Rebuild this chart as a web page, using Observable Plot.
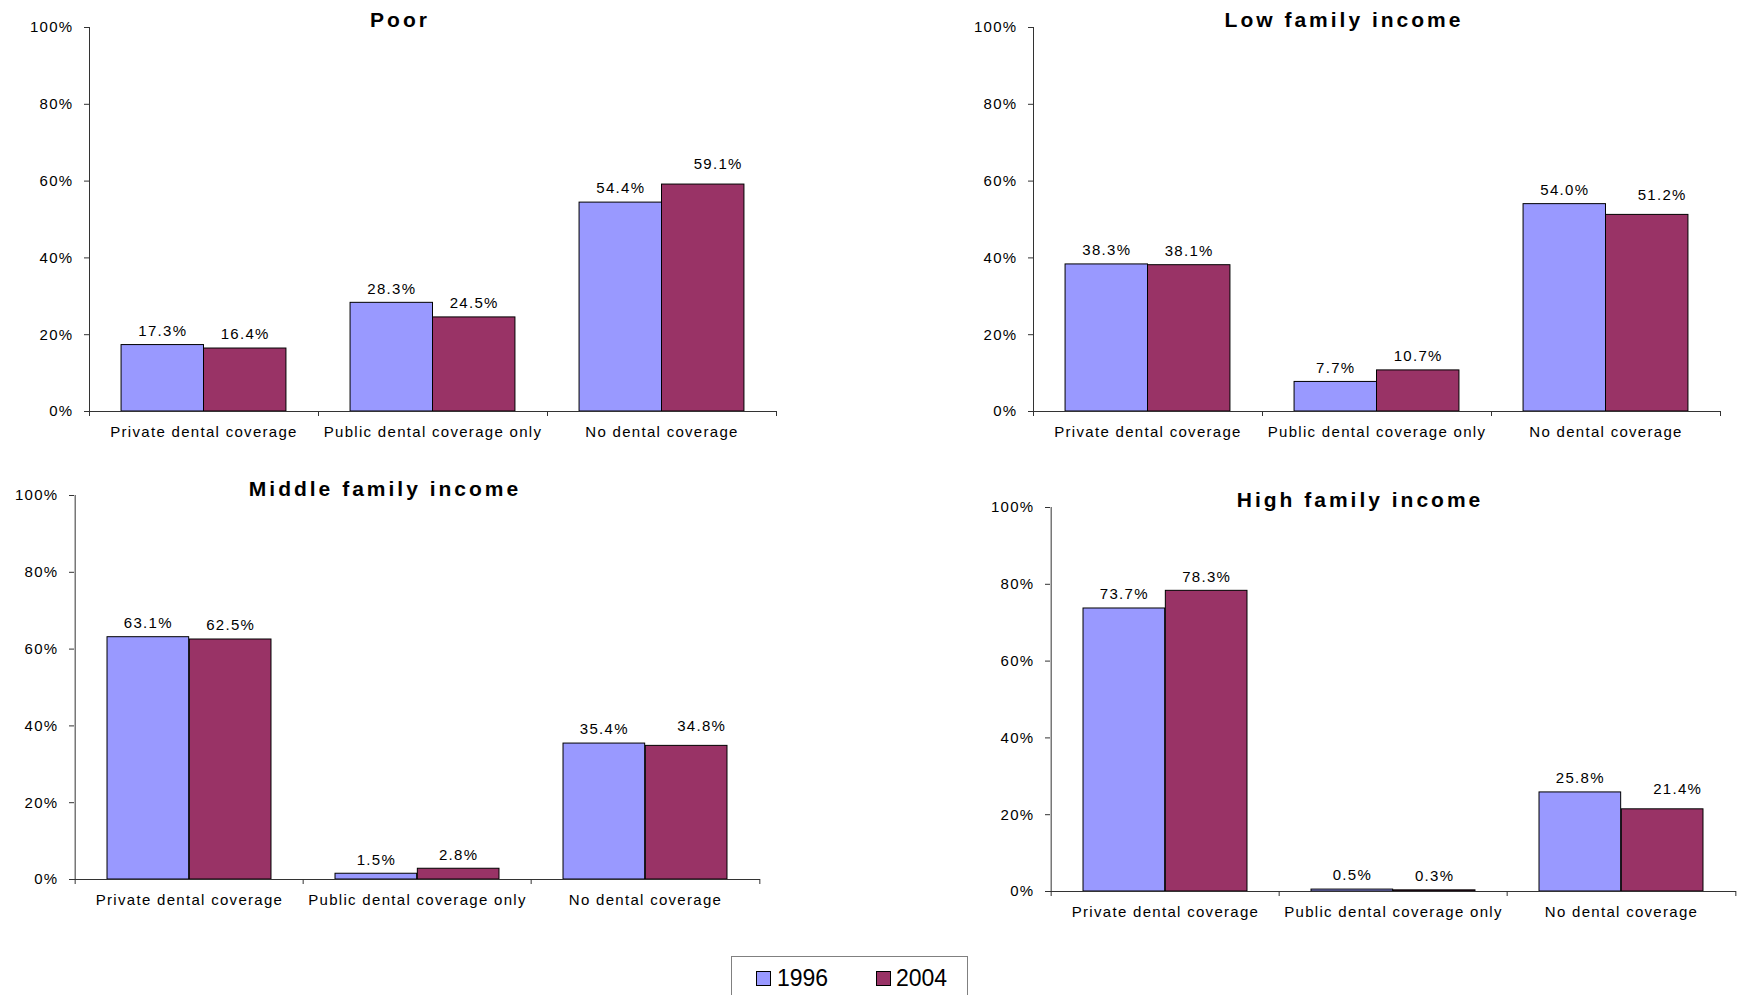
<!DOCTYPE html>
<html>
<head>
<meta charset="utf-8">
<script src="https://cdn.jsdelivr.net/npm/d3@7"></script>
<script src="https://cdn.jsdelivr.net/npm/@observablehq/plot@0.6"></script>
<style>
  html, body { margin: 0; padding: 0; background: #fff; }
  #root { position: relative; width: 1739px; height: 995px; overflow: hidden; font-family: Arial, "Liberation Sans", sans-serif; }
  .panel { position: absolute; }
  .title { position: absolute; transform: translate(-50%, -50%); font-size: 21px; font-weight: bold; letter-spacing: 3px; line-height: 1; white-space: nowrap; color: #000; }
  .legend { position: absolute; left: 731px; top: 956px; width: 237px; height: 60px; border: 1px solid #808080; box-sizing: border-box; background: #fff; }
  .legend .sw { position: absolute; width: 15px; height: 15px; border: 1px solid #000; box-sizing: border-box; }
  .legend .lb { position: absolute; font-size: 23px; line-height: 1; color: #000; }
</style>
</head>
<body>
<div id="root"></div>
<script>
// ---- data ----
const categories = ["Private dental coverage", "Public dental coverage only", "No dental coverage"];
const years = ["1996", "2004"];
const yearColors = ["#9999FF", "#993366"];
const panelTitles = ["Poor", "Low family income", "Middle family income", "High family income"];
const poor1996 = [17.3, 28.3, 54.4];
const poor2004 = [16.4, 24.5, 59.1];
const low1996 = [38.3, 7.7, 54.0];
const low2004 = [38.1, 10.7, 51.2];
const middle1996 = [63.1, 1.5, 35.4];
const middle2004 = [62.5, 2.8, 34.8];
const high1996 = [73.7, 0.5, 25.8];
const high2004 = [78.3, 0.3, 21.4];
const yTicks = [0, 20, 40, 60, 80, 100];

// ---- layout (positions/sizes only) ----
const layouts = [
  {left: 0,   top: 0,   width: 800, height: 455, ml: 89,  mr: 24, mt: 27, mb: 44, tx: 400,  ty: 19},
  {left: 810, top: 0,   width: 929, height: 455, ml: 223, mr: 19, mt: 27, mb: 44, tx: 1344, ty: 19},
  {left: 0,   top: 460, width: 800, height: 479, ml: 74,  mr: 40, mt: 35, mb: 60, tx: 385,  ty: 488},
  {left: 810, top: 460, width: 929, height: 479, ml: 240, mr: 3,  mt: 47, mb: 48, tx: 1360, ty: 499}
];
const series = [[poor1996, poor2004], [low1996, low2004], [middle1996, middle2004], [high1996, high2004]];

const root = document.getElementById("root");
const fmt = v => v.toFixed(1) + "%";

series.forEach(([a, b], i) => {
  const L = layouts[i];
  const rows = [];
  categories.forEach((c, j) => {
    rows.push({category: c, year: years[0], value: a[j]});
    rows.push({category: c, year: years[1], value: b[j]});
  });
  const r96 = rows.filter(d => d.year === years[0]);
  const r04 = rows.filter(d => d.year === years[1]);
  const r04main = r04.filter(d => d.category !== categories[2]);
  const r04last = r04.filter(d => d.category === categories[2]);

  const step = (L.width - L.ml - L.mr) / categories.length;
  const half = step / 2;
  const outer = step * 0.14;
  const mid = half;
  const barC = (outer + mid) / 2 - half; // offset of 1996 bar center from band center

  const chart = Plot.plot({
    width: L.width,
    height: L.height,
    marginLeft: L.ml,
    marginRight: L.mr,
    marginTop: L.mt,
    marginBottom: L.mb,
    style: {background: "transparent", fontSize: "15px", fontFamily: "Arial, 'Liberation Sans', sans-serif", letterSpacing: "1.3px", color: "#000", overflow: "visible"},
    x: {domain: categories, padding: 0, label: null},
    y: {domain: [0, 100], label: null},
    color: {domain: years, range: yearColors},
    marks: [
      Plot.barY(r96, {x: "category", y: "value", fill: "year", stroke: "#000", strokeWidth: 1, insetLeft: outer, insetRight: step - mid}),
      Plot.barY(r04, {x: "category", y: "value", fill: "year", stroke: "#000", strokeWidth: 1, insetLeft: mid, insetRight: outer}),
      Plot.ruleY([0], {stroke: "#333", strokeWidth: 1}),
      Plot.ruleX([categories[0]], {x: d => d, y1: 0, y2: 100, dx: -half, stroke: "#333", strokeWidth: 1}),
      Plot.axisY(yTicks, {tickFormat: d => d + "%", tickSize: 5, tickPadding: 11, stroke: "#333", label: null}),
      Plot.axisX(categories, {tickSize: 0, tickPadding: 15, label: null}),
      Plot.axisX(categories, {tickSize: 5, tickFormat: () => "", dx: -half, stroke: "#333", label: null}),
      Plot.axisX([categories[2]], {tickSize: 5, tickFormat: () => "", dx: half, stroke: "#333", label: null}),
      Plot.text(r96, {x: "category", y: "value", text: d => fmt(d.value), dx: barC, dy: -14}),
      Plot.text(r04main, {x: "category", y: "value", text: d => fmt(d.value), dx: -barC, dy: -14}),
      Plot.text(r04last, {x: "category", y: "value", text: d => fmt(d.value), dx: -barC + 15, dy: -20})
    ]
  });
  const wrap = document.createElement("div");
  wrap.className = "panel";
  wrap.style.left = L.left + "px";
  wrap.style.top = L.top + "px";
  wrap.appendChild(chart);
  root.appendChild(wrap);

  const t = document.createElement("div");
  t.className = "title";
  t.style.left = L.tx + "px";
  t.style.top = L.ty + "px";
  t.textContent = panelTitles[i];
  root.appendChild(t);
});

// legend
const lg = document.createElement("div");
lg.className = "legend";
const legendPos = [{sx: 24, tx: 45}, {sx: 144, tx: 164}];
years.forEach((y, k) => {
  const sw = document.createElement("div");
  sw.className = "sw";
  sw.style.left = legendPos[k].sx + "px";
  sw.style.top = "14px";
  sw.style.background = yearColors[k];
  lg.appendChild(sw);
  const lb = document.createElement("div");
  lb.className = "lb";
  lb.style.left = legendPos[k].tx + "px";
  lb.style.top = "10px";
  lb.textContent = y;
  lg.appendChild(lb);
});
root.appendChild(lg);
</script>
</body>
</html>
